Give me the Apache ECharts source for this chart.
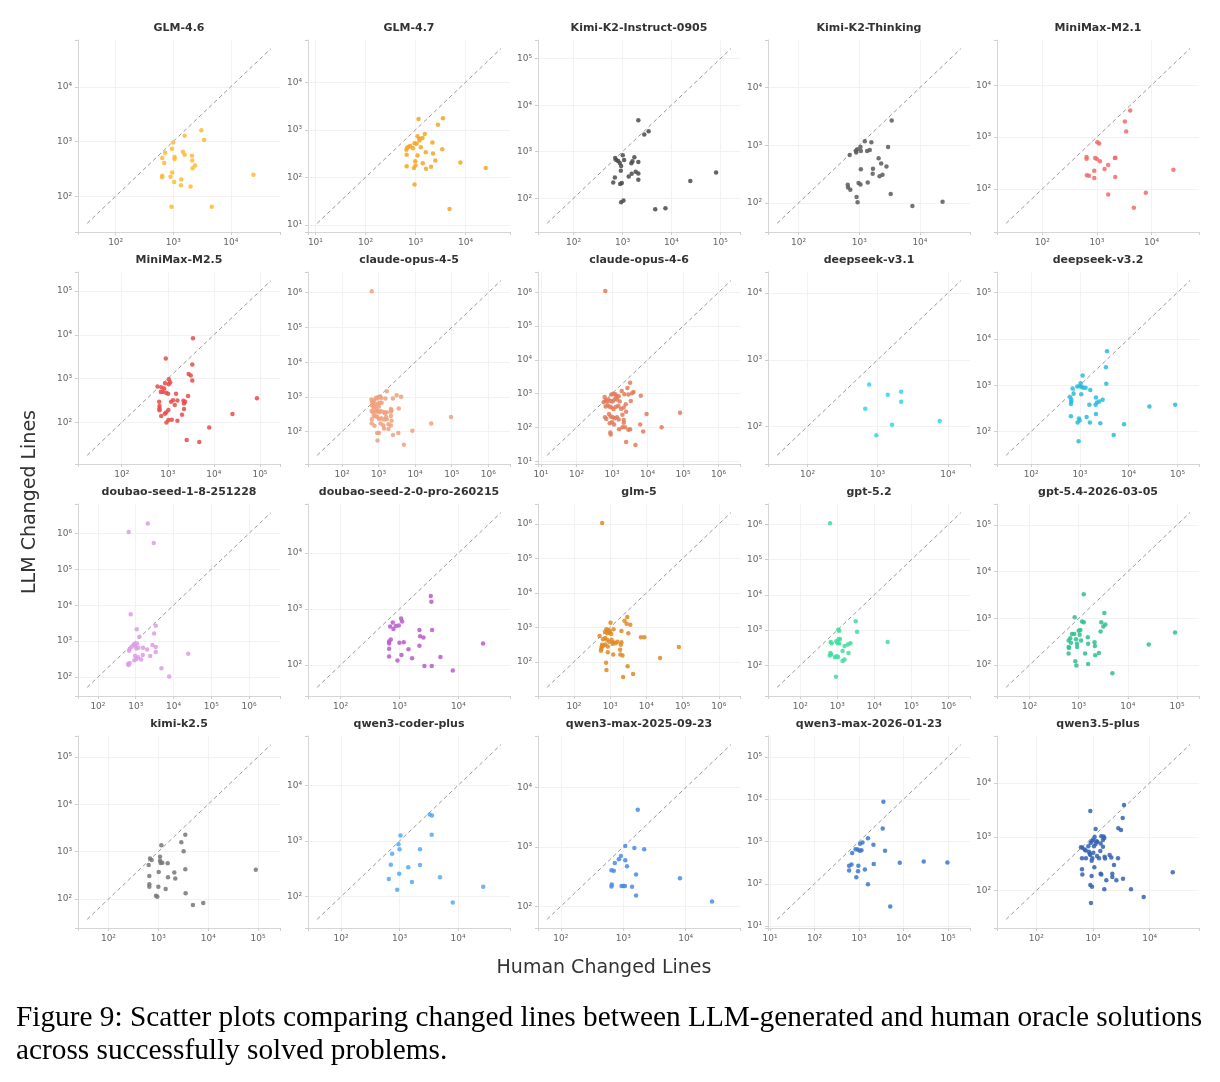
<!DOCTYPE html>
<html>
<head>
<meta charset="utf-8">
<script src="https://cdn.jsdelivr.net/npm/echarts@6/dist/echarts.min.js"></script>
<style>
  html, body { margin: 0; padding: 0; background: #fff; }
  #chart { width: 1220px; height: 1082px; }
</style>
</head>
<body>
<div id="chart"></div>
<script>
// [human changed lines, llm changed lines] per model
const glm46 = [[3080,1600],[1580,1270],[3430,1060],[1000,960],[725,624],[950,736],[643,500],[697,405],[1055,521],[1055,480],[1475,650],[1580,574],[2120,551],[2140,448],[2390,363],[2170,325],[960,272],[643,236],[643,223],[898,226],[1040,181],[1380,203],[1360,158],[2000,150],[24800,247],[935,64],[4670,64]]
const glm47 = [[1146,1683],[3516,1738],[2800,1267],[1528,815],[1095,730],[1182,653],[1200,594],[1375,674],[2170,541],[955,523],[1047,507],[1274,427],[655,382],[685,420],[728,440],[785,455],[665,297],[886,407],[3410,388],[1600,337],[2230,316],[1095,288],[2480,227],[985,217],[1395,197],[664,171],[2036,168],[1000,178],[928,158],[1620,151],[7850,206],[25200,158],[955,71],[4760,21.7]]
const kimiK2Instruct = [[2110,4720],[2790,2340],[3420,2755],[710,733],[745,665],[817,633],[883,574],[1015,836],[1080,665],[940,495],[925,388],[1750,757],[1597,622],[1520,565],[2110,603],[1864,369],[2110,340],[1545,335],[1343,294],[700,280],[647,219],[897,202],[970,212],[2110,250],[24300,234],[81700,357],[940,82],[1050,89],[4670,58],[7550,61]]
const kimiK2Thinking = [[3430,2700],[2990,936],[1235,1172],[1585,1127],[1050,936],[1064,798],[883,798],[930,853],[894,748],[1348,798],[1490,831],[697,681],[2085,597],[2300,483],[2810,428],[1064,385],[1687,391],[1666,320],[2420,308],[2163,292],[647,207],[655,186],[714,170],[975,221],[1050,210],[1382,227],[3300,143],[905,127],[940,103],[7520,89],[23600,105]]
const minimaxM21 = [[4070,3260],[3250,1983],[3440,1282],[1015,793],[1100,747],[647,411],[647,382],[930,394],[1000,377],[1135,340],[2135,394],[2180,398],[1610,290],[1380,243],[894,223],[655,184],[715,179],[894,162],[2165,169],[25200,233],[1610,78],[7870,84],[4750,43.5]]
const minimaxM25 = [[3520,8410],[905,2900],[3400,2094],[2840,1272],[3150,1188],[3400,902],[1050,966],[1123,828],[1050,747],[875,787],[598,662],[730,630],[834,598],[706,494],[780,494],[920,478],[1017,454],[1514,454],[2750,402],[650,295],[1180,295],[1300,322],[1618,316],[2180,311],[2250,271],[2370,295],[1416,249],[660,236],[660,209],[660,189],[2250,202],[1033,192],[920,168],[862,159],[718,141],[2036,149],[1033,113],[1220,115],[935,100],[1618,109],[7930,77],[25300,156],[86100,356],[2570,39.5],[4820,35.6]]
const claudeOpus45 = [[637,841],[664,722],[740,787],[841,937],[918,897],[979,1000],[1113,1022],[1188,937],[650,581],[708,634],[789,647],[958,634],[1090,676],[1213,676],[1540,897],[2470,897],[1676,1446],[3130,1115],[4140,1020],[724,488],[789,532],[879,457],[1022,532],[650,393],[708,360],[841,376],[918,393],[1044,360],[1138,393],[1352,368],[1506,337],[1676,360],[2170,448],[2265,410],[2170,376],[3560,468],[650,228],[650,176],[740,284],[841,284],[918,266],[1022,233],[1188,244],[1412,223],[1607,266],[1676,228],[2170,284],[2265,205],[773,148],[1138,172],[1352,151],[1866,165],[2170,151],[918,92],[1022,92],[1412,124],[1866,119],[2470,80],[3480,92],[938,56],[4920,42],[8400,107],[27500,172],[95700,266],[650,1100000]]
const claudeOpus46 = [[958,936],[1091,1000],[1242,957],[1327,836],[1545,836],[2233,957],[581,560],[662,640],[722,585],[788,683],[917,611],[1044,585],[1190,683],[1386,668],[1648,585],[2437,489],[3375,611],[662,418],[754,457],[859,409],[979,391],[1115,350],[1297,409],[1511,428],[1798,357],[2138,391],[2490,292],[634,200],[692,179],[822,250],[917,209],[1044,200],[1190,187],[1386,200],[1545,171],[1960,239],[2138,167],[859,134],[1000,143],[1139,122],[1578,89],[1960,102],[2333,102],[2138,137],[3230,89],[2900,85],[897,71],[917,62],[3230,2090],[2720,1463],[1880,1196],[4020,1118],[3680,1023],[2900,936],[6470,874],[620,800],[2490,37],[4570,30],[82200,273],[24900,102],[6190,122],[9380,250],[7530,76],[647,1100000]]
const deepseekV31 = [[757,425],[1394,298],[2163,331],[2163,235],[666,185],[1602,106],[958,74],[7660,121]]
const deepseekV32 = [[3590,5400],[3420,2440],[3470,1067],[1135,1626],[1033,1102],[881,937],[1000,953],[1082,922],[1170,878],[1307,878],[707,851],[1630,784],[1065,635],[741,656],[632,549],[664,482],[664,437],[654,391],[2133,540],[2236,424],[2100,378],[2925,482],[1556,378],[2495,445],[654,214],[954,191],[985,174],[896,157],[1370,207],[2133,240],[1603,157],[2617,150],[939,61.5],[4920,84],[8020,143],[26600,348],[89600,378]]
const doubaoSeed18 = [[2085,1880000],[652,1090000],[3006,540000],[736,5650],[1063,2140],[3400,2700],[3070,1626],[1251,1316],[885,810],[980,745],[1085,863],[1177,656],[1042,629],[783,698],[693,603],[666,542],[1566,656],[2000,590],[2767,776],[3394,683],[3394,498],[2404,387],[1533,412],[1153,355],[960,394],[922,294],[1042,320],[693,248],[652,218],[626,233],[1386,306],[24500,448],[4800,177],[7670,104]]
const doubaoSeed20 = [[3400,1714],[3480,1345],[1067,676],[1110,600],[771,575],[695,490],[791,440],[866,497],[975,511],[2183,423],[3580,423],[2240,327],[2552,310],[713,286],[668,264],[668,243],[1000,250],[1184,257],[668,196],[2183,221],[1421,191],[1081,152],[668,142],[925,121],[1640,133],[4955,140],[2655,96],[3530,96],[8020,80.5],[26200,243]]
const glm5 = [[600,1070000],[2960,2020],[2490,1550],[2840,1273],[3600,1191],[1022,1360],[1243,877],[2045,786],[3160,674],[7060,518],[8780,518],[23800,130],[78700,268],[788,877],[878,839],[979,785],[722,751],[822,674],[937,704],[1067,645],[510,565],[634,454],[722,495],[822,435],[937,381],[1091,435],[1216,373],[1416,349],[1578,381],[1960,313],[2048,373],[594,313],[647,293],[737,320],[859,281],[1164,334],[1880,225],[1920,162],[2186,152],[1216,162],[859,189],[569,235],[581,268],[556,211],[770,94],[788,58],[3030,75],[2280,36.5],[4285,44]]
const gpt52 = [[637,1080000],[3150,1783],[3415,898],[1063,1021],[1130,958],[664,462],[706,424],[940,483],[1086,550],[1178,561],[1021,424],[1131,424],[1570,357],[1925,390],[2268,424],[1388,254],[650,223],[692,205],[625,192],[866,169],[960,180],[1042,173],[2005,223],[1570,146],[1388,134],[921,47.7],[22900,462]]
const gpt54 = [[1267,3290],[3320,1294],[828,1049],[1000,542],[1082,560],[1171,851],[1267,825],[730,461],[815,461],[674,374],[624,334],[695,299],[624,243],[633,231],[624,176],[881,357],[925,285],[925,243],[1048,447],[1117,334],[1531,393],[1555,285],[2100,309],[2167,162],[2877,825],[3162,668],[3475,736],[2786,525],[2133,255],[2576,181],[1350,176],[855,121],[896,98],[1555,105],[4840,67],[26600,276],[91000,500]]
const kimiK25 = [[3470,2270],[2884,1580],[1148,1371],[3213,1016],[681,718],[736,664],[1080,776],[1080,643],[1113,575],[1202,585],[1538,567],[641,524],[1016,370],[3470,427],[2090,365],[2188,270],[1561,288],[660,306],[660,206],[660,182],[1000,182],[1402,163],[898,117],[955,112],[3524,133],[4935,75],[7943,83],[89800,413]]
const qwen3CoderPlus = [[3270,2977],[3580,2857],[3540,1291],[1040,1257],[961,874],[1000,714],[748,591],[2233,714],[710,374],[2233,369],[1408,336],[987,257],[656,207],[4906,224],[1627,183],[912,133],[8100,78.5],[26800,150]]
const qwen3Max0923 = [[1708,4230],[1078,1038],[1507,963],[2163,916],[917,702],[851,618],[733,538],[1078,596],[1147,474],[647,407],[706,397],[1604,345],[8090,297],[655,233],[647,216],[939,219],[1000,219],[1064,219],[1383,214],[1604,152],[26400,121]]
const qwen3Max0123 = [[3520,8690],[3400,2018],[1585,1192],[1194,950],[1055,884],[1036,601],[1132,622],[838,656],[932,644],[701,531],[2104,839],[3844,601],[677,287],[599,268],[599,205],[966,268],[2140,292],[948,199],[1352,217],[868,142],[1585,98],[8220,313],[28400,336],[96600,319],[5012,29]]
const qwen35Plus = [[1403,1028],[1542,1014],[1585,946],[1500,871],[1070,986],[1000,883],[947,824],[1145,824],[1115,736],[1365,747],[909,769],[828,668],[1042,668],[1192,813],[614,641],[649,624],[713,582],[743,558],[850,528],[897,460],[1014,507],[974,400],[947,358],[1056,272],[874,486],[1177,442],[1276,400],[1606,424],[1629,395],[1966,460],[2107,412],[2348,299],[2763,400],[1500,650],[1347,543],[640,400],[752,400],[640,250],[649,200],[947,187],[1365,206],[1403,200],[2192,206],[2192,179],[1718,156],[2582,156],[3383,167],[897,127],[960,118],[1585,106],[4686,106],[7834,76],[25500,220],[922,59],[897,2994],[3523,3890],[3340,2234],[2800,1434],[3120,1339],[1115,1395]]

const panelData = [glm46, glm47, kimiK2Instruct, kimiK2Thinking, minimaxM21,
  minimaxM25, claudeOpus45, claudeOpus46, deepseekV31, deepseekV32,
  doubaoSeed18, doubaoSeed20, glm5, gpt52, gpt54,
  kimiK25, qwen3CoderPlus, qwen3Max0923, qwen3Max0123, qwen35Plus]

const modelNames = ['GLM-4.6', 'GLM-4.7', 'Kimi-K2-Instruct-0905', 'Kimi-K2-Thinking', 'MiniMax-M2.1',
  'MiniMax-M2.5', 'claude-opus-4-5', 'claude-opus-4-6', 'deepseek-v3.1', 'deepseek-v3.2',
  'doubao-seed-1-8-251228', 'doubao-seed-2-0-pro-260215', 'glm-5', 'gpt-5.2', 'gpt-5.4-2026-03-05',
  'kimi-k2.5', 'qwen3-coder-plus', 'qwen3-max-2025-09-23', 'qwen3-max-2026-01-23', 'qwen3.5-plus']

const modelColors = ['#FDBA35', '#F5A623', '#4a4a4a', '#5a5a5a', '#F26B6B',
  '#E84A4A', '#F0A07C', '#E07B5A', '#30D5F0', '#27BCDD',
  '#DD9BE6', '#B85BC9', '#E08A24', '#3FDDA0', '#2FBF8C',
  '#777777', '#55A8F2', '#4A8AE6', '#3B76CF', '#3461B0']

const supDigits = ['\u2070', '\u00b9', '\u00b2', '\u00b3', '\u2074', '\u2075', '\u2076', '\u2077']

const FONT = '"DejaVu Sans", "Noto Sans", sans-serif'

// layout of the 4x5 grid
const colLeft = [78, 308, 538, 768, 997]
const rowTop = [40, 272, 504, 736]
const cellW = 202
const cellH = 192

function powLabel(v) {
  const lg = Math.log10(v)
  const e = Math.round(lg)
  if (Math.abs(lg - e) > 1e-6) return ''
  return '10' + supDigits[e]
}

function makeAxis(idx, min, max) {
  return {
    type: 'log',
    logBase: 10,
    gridIndex: idx,
    min: min,
    max: max,
    axisLine: { show: true, lineStyle: { color: '#d6d6d6', width: 1 } },
    axisTick: { show: true, length: 3, lineStyle: { color: '#cfcfcf' } },
    axisLabel: { formatter: powLabel, color: '#666', fontSize: 9, fontFamily: FONT, margin: 6 },
    splitLine: { show: true, showMinLine: false, showMaxLine: false, lineStyle: { color: '#f2f2f2', width: 1 } }
  }
}

const grid = []
const xAxis = []
const yAxis = []
const series = []
const graphic = []

panelData.forEach((pts, i) => {
  const r = Math.floor(i / 5)
  const c = i % 5
  grid.push({ left: colLeft[c], top: rowTop[r], width: cellW, height: cellH })

  // y = x reference spans half the smallest to twice the largest value
  const vals = pts.flat()
  const lo = Math.min(...vals) / 2
  const hi = Math.max(...vals) * 2
  const pad = 0.05 * Math.log10(hi / lo)
  const axMin = lo / Math.pow(10, pad)
  const axMax = hi * Math.pow(10, pad)

  xAxis.push(makeAxis(i, axMin, axMax))
  yAxis.push(makeAxis(i, axMin, axMax))

  series.push({
    type: 'line',
    xAxisIndex: i,
    yAxisIndex: i,
    data: [[lo, lo], [hi, hi]],
    symbol: 'none',
    silent: true,
    lineStyle: { color: '#999', width: 1, type: [4, 3] },
    z: 1
  })
  series.push({
    type: 'scatter',
    name: modelNames[i],
    xAxisIndex: i,
    yAxisIndex: i,
    data: pts,
    symbolSize: 4.5,
    itemStyle: { color: modelColors[i], opacity: 0.85 },
    z: 2
  })

  graphic.push({
    type: 'text',
    x: colLeft[c] + cellW / 2,
    y: rowTop[r] - 12,
    style: {
      text: modelNames[i],
      fill: '#333',
      font: 'bold 11px ' + FONT,
      align: 'center',
      verticalAlign: 'middle'
    }
  })
})

graphic.push({
  type: 'text',
  x: 30,
  y: 502,
  rotation: Math.PI / 2,
  style: { text: 'LLM Changed Lines', fill: '#333', font: '19px ' + FONT, align: 'center', verticalAlign: 'middle' }
})
graphic.push({
  type: 'text',
  x: 604,
  y: 968,
  style: { text: 'Human Changed Lines', fill: '#333', font: '19px ' + FONT, align: 'center', verticalAlign: 'middle' }
})
graphic.push({
  type: 'text',
  x: 16,
  y: 1018,
  style: {
    text: 'Figure 9: Scatter plots comparing changed lines between LLM-generated and human oracle solutions',
    fill: '#000', font: '29.3px "Liberation Serif", serif', align: 'left', verticalAlign: 'middle'
  }
})
graphic.push({
  type: 'text',
  x: 16,
  y: 1051,
  style: {
    text: 'across successfully solved problems.',
    fill: '#000', font: '29.3px "Liberation Serif", serif', align: 'left', verticalAlign: 'middle'
  }
})

const chart = echarts.init(document.getElementById('chart'), null, { renderer: 'canvas' })
chart.setOption({
  animation: false,
  backgroundColor: '#fff',
  grid,
  xAxis,
  yAxis,
  series,
  graphic
})
</script>
</body>
</html>
